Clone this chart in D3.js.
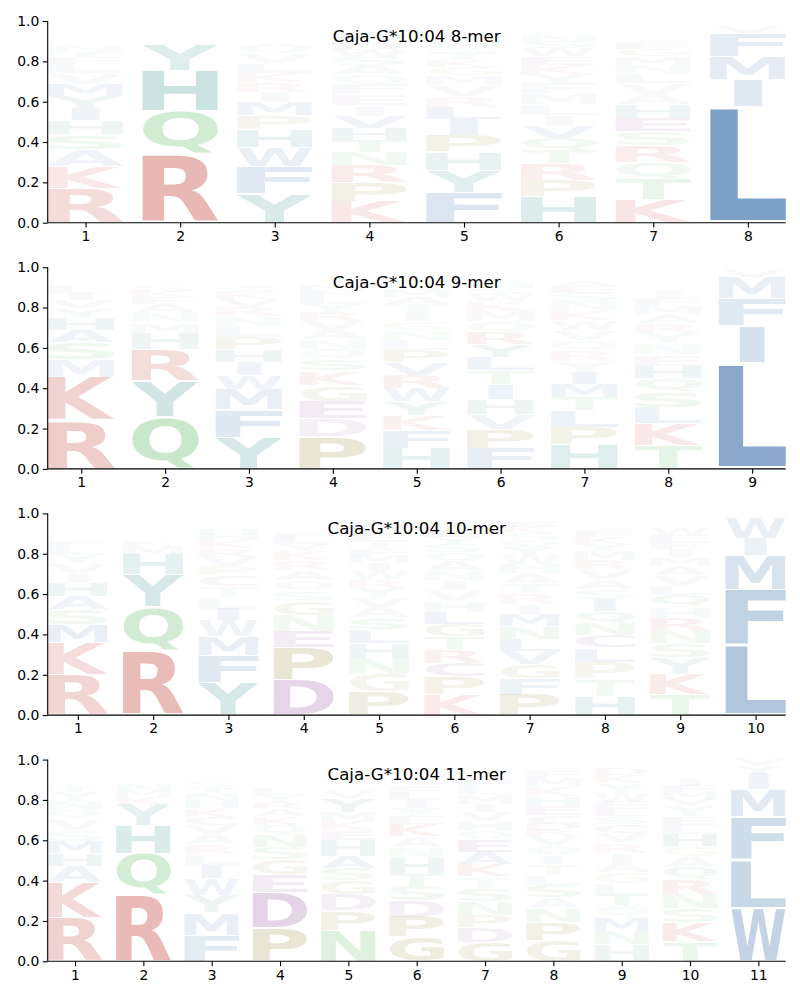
<!DOCTYPE html>
<html><head><meta charset="utf-8">
<script src="https://cdn.jsdelivr.net/npm/d3@7"></script>
<style>body{margin:0;background:#fff} svg text{font-family:"DejaVu Sans",sans-serif}</style>
</head><body><svg id="chart" width="800" height="1000"></svg>
<script>
const titles = ["Caja-G*10:04 8-mer","Caja-G*10:04 9-mer","Caja-G*10:04 10-mer","Caja-G*10:04 11-mer"];
const yTicks = [0,0.2,0.4,0.6,0.8,1.0];

// each column: [letter, height] from bottom to top
const mer8 = [
 [["R",.17],["K",.11],["A",.085],["S",.072],["H",.07],["I",.062],["Y",.06],["M",.058],["V",.055],["L",.045],["F",.035],["T",.03],["N",.027],["Q",.025],["G",.022],["W",.02],["E",.017],["D",.015],["P",.012],["C",.01]],
 [["R",.34],["Q",.215],["H",.2],["Y",.125],["M",.025],["F",.02],["K",.015],["W",.015],["N",.01],["S",.01],["L",.01],["T",.01],["V",.005]],
 [["Y",.145],["F",.135],["W",.095],["H",.085],["P",.07],["M",.065],["I",.05],["R",.05],["K",.048],["L",.047],["V",.046],["Q",.045],["N",.025],["S",.02],["T",.02],["A",.015],["G",.012],["E",.01],["D",.007],["C",.005]],
 [["K",.105],["P",.095],["R",.085],["N",.065],["T",.06],["H",.06],["V",.058],["I",.055],["E",.053],["F",.05],["Q",.048],["A",.045],["S",.04],["W",.035],["D",.033],["L",.03],["M",.028],["Y",.025],["G",.02],["C",.01]],
 [["F",.15],["Y",.11],["H",.09],["P",.085],["I",.08],["L",.058],["R",.056],["V",.055],["M",.045],["G",.042],["K",.035],["T",.032],["S",.03],["N",.028],["A",.025],["W",.022],["E",.02],["Q",.015],["D",.012],["C",.01]],
 [["H",.13],["P",.082],["R",.08],["T",.065],["Q",.062],["V",.058],["I",.055],["L",.055],["M",.053],["F",.05],["Y",.048],["K",.045],["E",.042],["W",.04],["S",.032],["N",.03],["G",.025],["A",.02],["D",.015],["C",.013]],
 [["K",.117],["T",.1],["Q",.084],["R",.082],["S",.068],["E",.067],["H",.066],["A",.055],["V",.053],["L",.048],["N",.043],["M",.042],["G",.035],["F",.03],["W",.025],["Y",.025],["D",.02],["P",.017],["I",.015],["C",.01]],
 [["L",.575],["I",.135],["M",.115],["F",.115],["V",.03],["W",.015],["Y",.01],["A",.005]]
];
const mer9 = [
 [["R",.24],["K",.215],["M",.088],["S",.084],["A",.06],["H",.06],["Y",.05],["V",.04],["I",.032],["L",.03],["F",.022],["Q",.02],["N",.02],["T",.015],["E",.01],["G",.01],["W",.004]],
 [["Q",.26],["Y",.175],["R",.157],["H",.083],["M",.05],["N",.045],["A",.045],["F",.035],["K",.03],["S",.028],["W",.025],["L",.022],["T",.02],["I",.015],["V",.01]],
 [["Y",.157],["F",.137],["M",.1],["W",.07],["I",.065],["H",.063],["P",.062],["L",.055],["N",.047],["R",.045],["V",.04],["K",.035],["S",.03],["Q",.025],["A",.025],["T",.02],["G",.014],["E",.01]],
 [["P",.16],["D",.088],["E",.088],["G",.08],["K",.07],["S",.058],["Q",.05],["N",.048],["A",.046],["V",.045],["R",.044],["Y",.04],["L",.035],["F",.032],["M",.028],["W",.025],["I",.025],["T",.02],["H",.018]],
 [["H",.1],["F",.09],["K",.075],["Y",.07],["W",.066],["R",.064],["V",.063],["P",.062],["L",.05],["N",.047],["G",.045],["I",.045],["T",.04],["A",.035],["M",.033],["S",.03],["Q",.028],["E",.025],["D",.017],["C",.015]],
 [["F",.1],["P",.095],["V",.077],["H",.075],["I",.073],["T",.068],["L",.066],["Y",.062],["R",.06],["Q",.055],["M",.052],["K",.05],["W",.035],["S",.03],["N",.028],["A",.025],["G",.02],["D",.015],["E",.014]],
 [["H",.12],["P",.088],["L",.08],["T",.065],["M",.064],["I",.06],["Y",.055],["R",.054],["Q",.052],["V",.05],["W",.048],["K",.05],["N",.045],["S",.04],["E",.035],["A",.03],["G",.025],["F",.02],["D",.012],["C",.007]],
 [["T",.114],["K",.11],["L",.08],["S",.08],["Q",.066],["H",.06],["E",.056],["N",.055],["Y",.054],["R",.048],["A",.042],["M",.04],["F",.04],["I",.035],["W",.025],["G",.022],["V",.02],["P",.02],["D",.015],["C",.01]],
 [["L",.525],["I",.185],["F",.135],["M",.105],["V",.03],["W",.01],["Y",.01]]
];
const mer10 = [
 [["R",.2],["K",.16],["M",.09],["S",.075],["A",.066],["H",.064],["I",.05],["V",.048],["Y",.045],["L",.04],["F",.028],["N",.025],["Q",.022],["T",.02],["G",.016],["E",.013],["W",.01],["D",.008],["C",.006],["P",.005]],
 [["R",.32],["Q",.215],["Y",.16],["H",.1],["M",.045],["K",.028],["F",.025],["N",.022],["W",.02],["S",.018],["L",.017],["T",.015],["A",.01],["V",.005]],
 [["Y",.16],["F",.134],["M",.096],["W",.079],["I",.058],["L",.056],["T",.055],["C",.055],["P",.047],["V",.045],["R",.042],["K",.04],["H",.032],["N",.028],["Q",.025],["S",.02],["A",.015],["G",.013]],
 [["D",.174],["P",.162],["E",.08],["N",.08],["G",.07],["S",.052],["Q",.05],["A",.05],["R",.048],["K",.045],["Y",.035],["L",.03],["F",.027],["H",.022],["M",.02],["T",.018],["I",.015],["V",.012],["W",.01]],
 [["P",.115],["G",.088],["N",.08],["H",.072],["L",.07],["S",.058],["A",.052],["V",.05],["Y",.045],["R",.042],["W",.04],["I",.04],["M",.038],["F",.036],["T",.035],["E",.032],["K",.03],["D",.028],["Q",.025],["C",.024]],
 [["K",.1],["P",.091],["C",.068],["R",.066],["T",.064],["G",.063],["L",.058],["H",.055],["V",.054],["I",.05],["N",.048],["A",.045],["Q",.043],["S",.04],["Y",.035],["E",.032],["M",.028],["F",.025],["D",.02],["W",.015]],
 [["P",.1],["F",.08],["G",.07],["V",.065],["L",.063],["N",.06],["M",.058],["I",.055],["R",.053],["T",.05],["A",.048],["H",.046],["W",.045],["Y",.04],["Q",.035],["S",.032],["K",.03],["E",.026],["D",.02],["C",.018]],
 [["H",.095],["T",.085],["P",.083],["L",.07],["C",.062],["N",.06],["Q",.06],["I",.058],["S",.052],["A",.05],["V",.05],["R",.045],["M",.045],["Y",.035],["K",.03],["F",.03],["W",.025],["G",.02],["E",.02],["D",.017]],
 [["T",.104],["K",.1],["Y",.08],["S",.07],["N",.068],["R",.06],["H",.056],["Q",.058],["L",.05],["V",.048],["A",.045],["M",.043],["I",.04],["F",.035],["E",.035],["W",.03],["G",.025],["P",.018],["D",.015],["C",.012]],
 [["L",.345],["F",.275],["M",.17],["I",.085],["W",.1],["V",.02]]
];
const mer11 = [
 [["R",.215],["K",.175],["A",.08],["H",.063],["M",.063],["S",.055],["V",.055],["Q",.045],["N",.045],["Y",.045],["T",.03],["L",.025],["F",.022],["I",.02],["G",.018],["E",.015],["W",.012],["D",.01],["C",.007]],
 [["R",.33],["Q",.205],["H",.14],["Y",.105],["K",.035],["M",.03],["N",.03],["F",.025],["W",.025],["S",.02],["L",.02],["T",.015],["A",.01],["I",.01]],
 [["F",.13],["M",.11],["Y",.088],["W",.083],["I",.065],["L",.055],["R",.05],["A",.047],["V",.045],["C",.043],["K",.042],["H",.04],["N",.035],["T",.03],["S",.03],["P",.025],["Q",.025],["G",.02],["E",.017],["D",.01]],
 [["P",.166],["D",.175],["E",.088],["G",.075],["S",.06],["N",.06],["Q",.053],["K",.04],["A",.035],["R",.035],["Y",.035],["L",.03],["F",.025],["T",.025],["H",.022],["V",.02],["M",.018],["I",.012],["W",.01],["C",.006]],
 [["N",.154],["P",.096],["D",.08],["G",.07],["S",.06],["A",.06],["H",.08],["E",.05],["K",.045],["M",.045],["Y",.07],["V",.035],["L",.025],["T",.025],["F",.02],["R",.02],["Q",.02],["I",.015],["C",.015],["W",.01]],
 [["G",.12],["P",.1],["D",.08],["S",.074],["T",.058],["H",.079],["N",.056],["A",.053],["K",.06],["E",.04],["Y",.04],["I",.04],["L",.03],["F",.03],["M",.025],["Q",.025],["W",.02],["R",.02],["V",.02],["C",.01]],
 [["G",.096],["D",.071],["P",.063],["N",.068],["S",.066],["T",.055],["K",.063],["A",.058],["E",.063],["Q",.04],["H",.05],["V",.046],["I",.04],["M",.05],["L",.035],["F",.03],["W",.025],["R",.025],["Y",.02],["C",.015]],
 [["G",.104],["P",.091],["N",.068],["A",.055],["S",.06],["L",.05],["T",.055],["I",.041],["Q",.051],["V",.046],["R",.03],["D",.03],["C",.045],["E",.045],["H",.045],["K",.05],["M",.04],["F",.035],["Y",.025],["W",.02]],
 [["H",.083],["N",.068],["M",.068],["Q",.053],["T",.06],["L",.055],["G",.055],["A",.046],["I",.05],["R",.05],["V",.046],["C",.045],["S",.038],["E",.04],["F",.03],["W",.045],["Y",.05],["K",.04],["D",.03],["P",.025]],
 [["T",.096],["K",.096],["S",.071],["N",.071],["R",.071],["Q",.063],["A",.051],["G",.05],["H",.063],["L",.045],["E",.042],["Y",.055],["V",.03],["M",.033],["F",.03],["I",.03],["W",.02],["D",.02],["P",.015],["C",.01]],
 [["W",.265],["L",.24],["F",.21],["M",.135],["I",.08],["Y",.04],["V",.03]]
];

const letterColors = {
 R:"#bb2e23", K:"#bb2e23",
 H:"#006e6a", Y:"#006e6a",
 Q:"#2ea737", N:"#2ea737", S:"#2ea737", T:"#2ea737",
 P:"#786400", G:"#786400",
 D:"#64136f", E:"#64136f", C:"#64136f",
 L:"#1e5a9c", F:"#1e5a9c", M:"#1e5a9c", I:"#1e5a9c", W:"#1e5a9c", V:"#1e5a9c", A:"#1e5a9c"
};

const panels = [mer8, mer9, mer10, mer11];
const svg = d3.select("#chart");

const FS = 100;
const ctx = document.createElement("canvas").getContext("2d");
ctx.font = `bold ${FS}px "DejaVu Sans"`;
const metricCache = {};
function glyphBox(ch){
  if(!metricCache[ch]){
    const t = ctx.measureText(ch);
    metricCache[ch] = {l:-t.actualBoundingBoxLeft, r:t.actualBoundingBoxRight, t:-t.actualBoundingBoxAscent, b:t.actualBoundingBoxDescent};
  }
  return metricCache[ch];
}
// horizontal stretch is capped by a reference width so narrow glyphs (I) stay narrow
const refInk = Math.min(glyphBox("L").r - glyphBox("L").l, glyphBox("F").r - glyphBox("F").l);

const left = 47.7, right = 785.7, ph = 201.7, gap = 246.2, top0 = 21;
const colW = 0.8, vpad = 0.025;

panels.forEach((cols, i) => {
  const top = top0 + i*gap;
  const n = cols.length;
  const x = d3.scaleLinear().domain([0.6, n + 0.4]).range([left, right]);
  const y = d3.scaleLinear().domain([0, 1]).range([top + ph, top]);
  const g = svg.append("g");

  cols.forEach((col, j) => {
    let floor = 0;
    const x0 = x(j + 1 - colW/2), x1 = x(j + 1 + colW/2);
    col.forEach(([ch, v]) => {
      const yTop = y(floor + v - vpad*v), yBot = y(floor + vpad*v);
      const b = glyphBox(ch);
      const ink = b.r - b.l;
      const frac = Math.min(1, ink / refInk);
      const w = (x1 - x0) * frac;
      const gx = (x0 + x1)/2 - w/2;
      const sx = w / ink, sy = (yBot - yTop) / (b.b - b.t);
      g.append("text").text(ch)
        .attr("font-size", FS).attr("font-weight", "bold")
        .attr("fill", letterColors[ch]).attr("fill-opacity", Math.min(1, v))
        .attr("transform", `translate(${gx},${yTop}) scale(${sx},${sy}) translate(${-b.l},${-b.t})`);
      floor += v;
    });
  });

  const ya = svg.append("g").attr("transform", `translate(${left},0)`)
    .call(d3.axisLeft(y).tickValues(yTicks).tickFormat(d3.format(".1f")).tickSize(4.9).tickPadding(3.5));
  const xa = svg.append("g").attr("transform", `translate(0,${top + ph})`)
    .call(d3.axisBottom(x).tickValues(d3.range(1, n + 1)).tickFormat(d3.format("d")).tickSize(4.9).tickPadding(3.5));
  [ya, xa].forEach(a => {
    a.selectAll("path.domain").attr("stroke", "#000").attr("stroke-width", 1.1);
    a.selectAll(".tick line").attr("stroke", "#000").attr("stroke-width", 1.1);
    a.selectAll(".tick text").attr("font-size", 13.9).attr("fill", "#000").attr("font-family", '"DejaVu Sans", sans-serif');
  });
  ya.select("path.domain").attr("d", `M0,${top + ph}V${top}`);
  xa.select("path.domain").attr("d", `M${left},0H${right}`);

  svg.append("text").attr("x", (left + right)/2).attr("y", top + 20.5)
    .attr("text-anchor", "middle").attr("font-size", 16.67).attr("fill", "#000")
    .text(titles[i]);
});
</script></body></html>
